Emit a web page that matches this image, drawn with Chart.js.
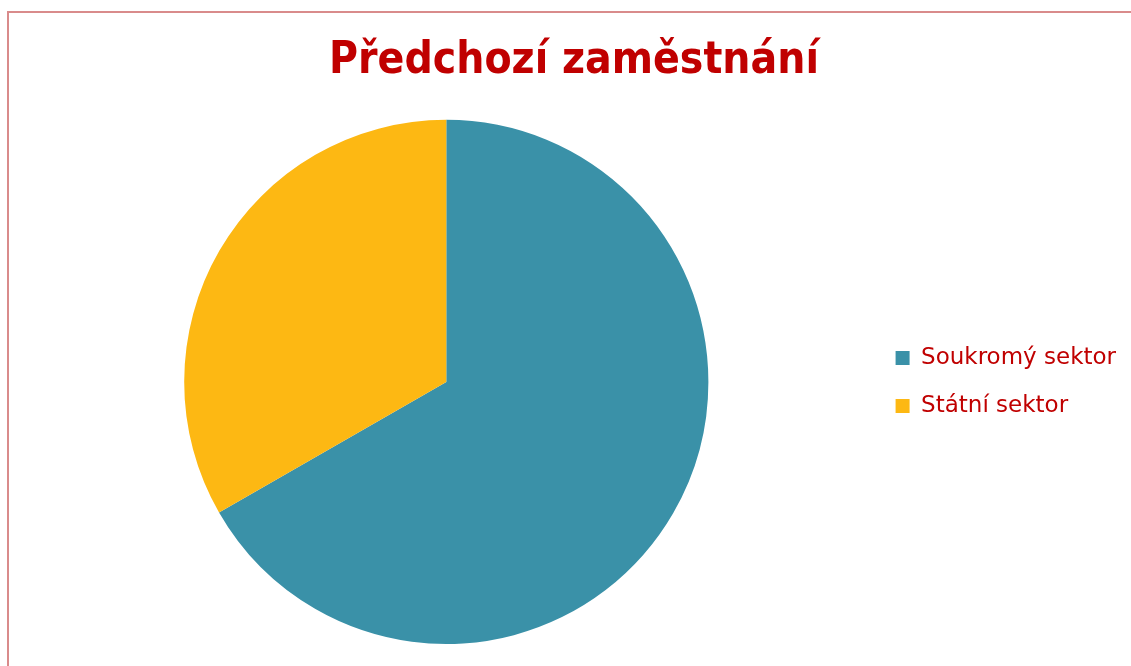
<!DOCTYPE html>
<html>
<head>
<meta charset="utf-8">
<script src="https://cdn.jsdelivr.net/npm/chart.js@4.4.0/dist/chart.umd.min.js"></script>
<style>
html,body{margin:0;padding:0;background:#fff;overflow:hidden;width:1131px;height:666px;}
#frame{position:absolute;left:7px;top:11px;width:1140px;height:670px;border:2px solid #d98b8b;box-sizing:border-box;}
#wrap{position:absolute;left:0px;top:13px;width:1148px;height:653px;}
</style>
</head>
<body>
<div id="frame"></div>
<div id="wrap"><canvas id="chartPie"></canvas></div>
<script>
const labels=["Soukromý sektor","Státní sektor"];
const values=[66.7,33.3];
const colors=["#3a91a8","#fdb813"];
const titleText="Předchozí zaměstnání";

new Chart(document.getElementById("chartPie"),{
type:'pie',
data:{
labels:labels,
datasets:[{
data:values,
backgroundColor:colors,
borderWidth:0
}]
},
options:{
responsive:true,
maintainAspectRatio:false,
animation:false,
layout:{padding:{left:22,right:22,top:0,bottom:22}},
plugins:{
title:{
display:true,
text:titleText,
color:"#c00000",
font:{family:"DejaVu Sans Condensed",size:44,weight:"bold"},
padding:{top:22,bottom:32}
},
legend:{
position:'right',
fullSize:false,
labels:{
color:"#c00000",
font:{family:"DejaVu Sans",size:23},
boxWidth:14,
boxHeight:14,
padding:25
}
},
tooltip:{enabled:false}
}
}
});
</script>
</body>
</html>
